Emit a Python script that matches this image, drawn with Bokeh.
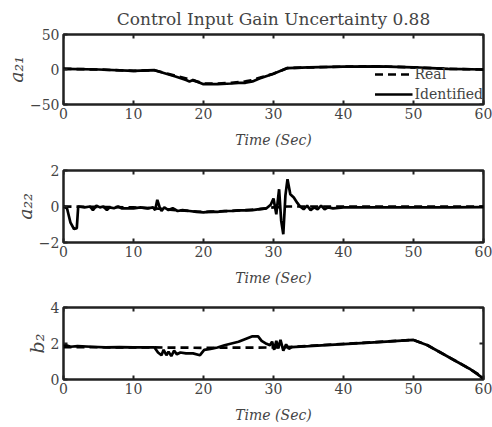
import math
from bokeh.plotting import figure
from bokeh.layouts import column
from bokeh.models import LinearAxis, FixedTicker, Range1d, Legend, LegendItem
from bokeh.embed import file_html
from bokeh.resources import INLINE

TITLE = "Control Input Gain Uncertainty 0.88"
X_TICKS = [0, 10, 20, 30, 40, 50, 60]

# a21
a21_real_t = [0, 5, 10, 13, 16, 18, 20, 22, 24, 26, 27, 28, 30, 32, 35, 40, 45, 50, 55, 60]
a21_real_v = [1, 0, -2, -1, -9, -14, -20, -20, -19, -17, -15, -12, -6, 2, 3, 4, 4.5, 3, 1, 0]
a21_id_t = [0, 5, 10, 13, 16, 17.5, 18, 18.5, 20, 22, 24, 25, 26, 27, 28, 30, 32, 35, 40, 45, 50, 55, 60]
a21_id_v = [1, 0, -2, -1, -10, -15, -17, -15, -21, -21, -20, -19, -19, -17, -13, -6, 2, 3, 4, 4.5, 3, 1, 0]

# a22
a22_real_t = [0, 10, 13, 16, 20, 24, 28, 30, 32, 35, 40, 60]
a22_real_v = [0, -0.05, -0.1, -0.2, -0.3, -0.25, -0.15, -0.05, 0, 0, 0, 0]
a22_id_t = [0, 0.5, 1.0, 1.5, 1.9, 2.1, 3, 3.8, 4.2, 4.7, 5.2, 5.7, 6.2, 6.6, 7.2, 7.8, 8.3, 9, 10, 11, 12, 12.8,
            13.1, 13.4, 13.7, 14.0, 14.4, 15, 15.6, 16.3, 17, 18, 19, 20, 21, 22, 23, 24, 25, 26, 27, 28, 29,
            29.6, 30.0, 30.4, 30.8, 31.1, 31.4, 31.7, 32.0, 32.4, 32.9, 33.4, 33.8, 34.3, 34.8, 35.3, 35.8,
            36.3, 36.8, 37.3, 37.8, 38.5, 40, 45, 50, 55, 60]
a22_id_v = [0, -0.1, -0.9, -1.25, -1.2, 0.0, -0.05, 0.0, -0.2, 0.05, -0.05, 0.0, -0.2, -0.05, -0.1, 0.0, -0.1, -0.1,
            -0.1, -0.05, -0.1, -0.05, -0.2, 0.37, 0.0, -0.25, -0.05, -0.2, -0.1, -0.25, -0.2, -0.25, -0.3, -0.33,
            -0.28, -0.3, -0.25, -0.25, -0.22, -0.22, -0.2, -0.15, -0.1, 0.1, 0.44, -0.43, 0.96, -0.8, -1.54,
            0.6, 1.52, 0.68, 0.5, 0.2, 0.0, -0.15, 0.05, -0.2, -0.05, -0.15, 0.05, -0.15, -0.05, -0.1,
            -0.05, -0.05, -0.05, -0.05, -0.03]

# b2
b2_real_t = [0, 13, 20, 30, 32, 40, 50, 52, 55, 58, 60]
b2_real_v = [1.8, 1.78, 1.76, 1.78, 1.8, 1.98, 2.2, 1.9, 1.25, 0.6, 0.1]
b2_id_t = [0, 0.4, 1, 2, 4, 6, 8, 10, 13, 13.5, 14, 14.3, 14.7, 15, 15.4, 15.8, 16.2, 16.7, 17.5, 18.5, 19.5,
           20.1, 21, 22, 23, 25, 27, 27.8, 28.3, 29, 29.5, 29.8, 30.1, 30.4, 30.7, 31.0, 31.4, 31.8, 32.2,
           32.6, 35, 40, 45, 50, 52, 55, 58, 60]
b2_id_v = [1.95, 1.9, 1.82, 1.85, 1.82, 1.78, 1.8, 1.78, 1.78, 1.5, 1.35, 1.65, 1.35, 1.55, 1.3, 1.6, 1.4, 1.5,
           1.45, 1.45, 1.35, 1.65, 1.7, 1.78, 1.9, 2.1, 2.4, 2.4, 2.15, 1.98, 1.9, 2.1, 1.65, 2.15, 1.75,
           2.2, 1.6, 1.95, 1.7, 1.8, 1.85, 1.96, 2.08, 2.2, 1.9, 1.25, 0.6, 0.05]

PANELS = [
    ("a₂₁", [-50, 0, 50], (-50, 50), a21_real_t, a21_real_v, a21_id_t, a21_id_v),
    ("a₂₂", [-2, 0, 2], (-2, 2), a22_real_t, a22_real_v, a22_id_t, a22_id_v),
    ("b₂", [0, 2, 4], (0, 4), b2_real_t, b2_real_v, b2_id_t, b2_id_v),
]

FONT = "DejaVu Serif"
INK = "#222222"
# (border top, frame height, border bottom)
sizes = [(33, 70, 45), (20, 72, 47), (18, 72, 50)]

figs = []
for i, (ylab, yticks, yr, rt, rv, it, iv) in enumerate(PANELS):
    top, fh, bot = sizes[i]
    p = figure(frame_width=420, frame_height=fh, output_backend="svg", toolbar_location=None,
               x_range=Range1d(0, 60), y_range=Range1d(*yr),
               min_border_left=63, min_border_right=9, min_border_top=top,
               min_border_bottom=bot, x_axis_location=None, y_axis_location=None)
    p.xgrid.visible = False
    p.ygrid.visible = False
    p.outline_line_color = INK
    p.outline_line_width = 2.5
    p.background_fill_color = "white"
    p.border_fill_color = "white"

    ax = LinearAxis(ticker=FixedTicker(ticks=X_TICKS))
    ax.major_tick_in = 4
    ax.major_tick_out = 0
    ax.minor_tick_line_color = None
    ax.axis_line_color = None
    ax.major_tick_line_color = INK
    ax.major_tick_line_width = 2
    ax.axis_label = "Time (Sec)"
    ax.axis_label_text_font = FONT
    ax.axis_label_text_font_style = "italic"
    ax.axis_label_text_font_size = "14px"
    ax.axis_label_standoff = 10
    ax.major_label_text_font = FONT
    ax.major_label_text_font_size = "14px"
    ax.major_label_standoff = 3
    p.add_layout(ax, "below")

    ay = LinearAxis(ticker=FixedTicker(ticks=yticks))
    ay.major_tick_in = 4
    ay.major_tick_out = 0
    ay.minor_tick_line_color = None
    ay.axis_line_color = None
    ay.major_tick_line_color = INK
    ay.major_tick_line_width = 2
    ay.axis_label = ylab
    ay.axis_label_text_font = FONT
    ay.axis_label_text_font_style = "italic"
    ay.axis_label_text_font_size = "19px"
    ay.axis_label_standoff = 0
    ay.major_label_text_font = FONT
    ay.major_label_text_font_size = "14px"
    ay.major_label_standoff = 4
    p.add_layout(ay, "left")

    # mirrored ticks on top and right edges (clipped to the frame)
    p.scatter(X_TICKS, [yr[1]] * len(X_TICKS), marker="dash", size=8, angle=math.pi / 2,
              line_color=INK, line_width=2)
    p.scatter([60] * len(yticks), yticks, marker="dash", size=8,
              line_color=INK, line_width=2)

    r_real = p.line(rt, rv, line_color="black", line_width=2.7, line_dash="8 5")
    r_id = p.line(it, iv, line_color="black", line_width=2.7)

    if i == 0:
        p.title.text = TITLE
        p.title.text_font = FONT
        p.title.text_font_size = "17px"
        p.title.text_font_style = "normal"
        p.title.align = "center"
        p.title.offset = 0
        p.title.standoff = 12
        leg = Legend(items=[LegendItem(label="Real", renderers=[r_real]),
                            LegendItem(label="Identified", renderers=[r_id])],
                     location="bottom_right")
        leg.background_fill_alpha = 0
        leg.border_line_color = None
        leg.label_text_font = FONT
        leg.label_text_font_size = "14px"
        leg.glyph_width = 38
        leg.label_standoff = 2
        leg.padding = 0
        leg.margin = 0
        leg.spacing = 0
        leg.label_height = 20
        leg.glyph_height = 20
        p.add_layout(leg, "center")
    figs.append(p)

layout = column(*figs, spacing=0)
open("out.html", "w").write(file_html(layout, INLINE))
